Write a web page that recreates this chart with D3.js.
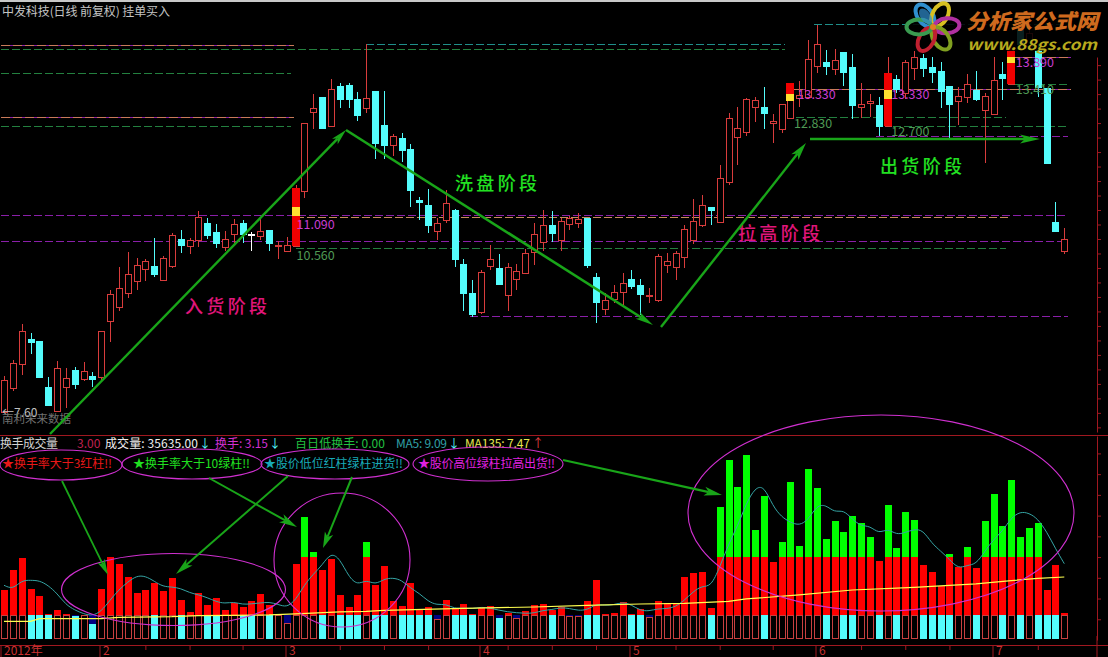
<!DOCTYPE html>
<html><head><meta charset="utf-8">
<script src="https://cdn.jsdelivr.net/npm/d3@7"></script>
<style>html,body{margin:0;padding:0;background:#000;overflow:hidden}svg{display:block}text{font-family:"Noto Sans CJK SC","Noto Sans",sans-serif}</style>
</head><body><svg id="c" width="1108" height="657"></svg>
<script>
const open=[7.86,8.27,8.68,9.12,9.08,8.29,7.87,8.29,8.58,8.43,
8.48,8.46,9.43,9.67,9.91,10.12,10.32,10.37,10.13,10.37,
10.84,10.72,10.82,11.12,10.96,10.70,10.93,11.12,10.93,10.89,
11.00,10.72,10.63,10.72,11.67,13.03,13.29,12.79,13.48,13.49,
13.25,13.10,13.39,12.81,12.46,12.58,12.39,11.51,11.43,10.98,
11.17,11.34,10.41,9.91,9.58,10.37,10.34,9.87,10.15,10.25,
10.62,10.79,11.08,10.82,11.10,11.12,11.20,10.18,9.63,9.81,
9.93,10.15,10.05,9.86,9.79,10.39,10.36,10.53,10.82,11.08,
11.39,11.13,11.82,12.60,12.68,13.12,13.12,12.84,12.74,12.93,
13.27,13.29,13.82,13.89,13.77,14.06,13.80,13.12,13.18,13.15,
12.79,13.60,13.36,13.79,13.96,13.80,13.74,13.48,13.22,13.29,
13.41,13.06,13.00,13.68,13.51,14.44,14.17,14.10,13.44,11.13,10.63];
const close=[8.41,8.70,9.25,9.06,8.46,7.98,8.62,8.44,8.34,8.56,
8.43,9.25,9.89,10.00,10.24,10.39,10.46,10.24,10.51,10.91,
10.74,10.82,11.22,10.91,10.77,10.84,11.10,10.93,10.93,10.98,
10.77,10.74,10.74,11.72,12.84,13.10,12.75,13.43,13.25,13.25,
12.98,13.27,12.49,12.46,12.61,12.37,11.68,11.48,11.08,11.12,
11.46,10.49,9.91,9.55,10.27,10.49,10.06,10.36,10.29,10.60,
10.93,11.08,10.94,11.15,11.20,11.18,10.39,9.75,9.79,9.93,
10.08,10.03,9.89,9.87,10.55,10.46,10.60,11.01,11.15,11.43,
11.34,11.89,12.93,12.75,13.25,13.24,13.01,12.87,13.17,13.53,
13.32,13.94,14.20,13.82,13.93,13.72,13.15,13.17,13.22,12.79,
13.70,13.43,13.89,13.98,13.79,13.72,13.39,13.17,13.30,13.51,
13.25,13.30,13.58,13.61,14.15,14.20,14.39,13.46,12.15,10.98,10.84];
const high=[8.48,8.75,9.37,9.22,9.08,8.46,8.74,8.62,8.63,8.72,
8.55,9.25,9.96,10.36,10.62,10.51,10.49,10.86,10.55,10.94,
11.00,10.86,11.32,11.20,11.10,10.98,11.18,11.17,10.96,11.20,
11.00,10.81,10.88,11.77,12.84,13.34,13.29,13.60,13.53,13.53,
13.37,14.20,13.39,13.39,12.65,12.67,12.48,11.56,11.70,11.20,
11.68,11.36,10.49,10.13,10.31,10.74,10.58,10.43,10.41,10.67,
11.12,11.34,11.32,11.20,11.24,11.29,11.20,10.25,9.91,10.05,
10.25,10.31,10.15,10.00,10.58,10.60,10.63,11.08,11.53,11.60,
11.39,12.12,13.01,13.12,13.27,13.29,13.46,13.00,13.17,13.53,
13.56,14.27,14.53,14.10,14.12,14.06,14.03,13.53,13.34,13.29,
13.98,13.67,13.93,14.08,14.03,13.98,13.89,13.48,13.46,13.68,
13.74,13.36,13.98,13.89,14.15,14.50,14.48,14.20,13.44,11.48,11.03];
const low=[7.86,8.22,8.49,8.86,8.44,7.96,7.87,7.93,8.25,8.39,
8.29,8.37,9.06,9.60,9.82,9.96,10.12,10.18,10.12,10.34,
10.60,10.58,10.70,10.84,10.68,10.63,10.77,10.77,10.63,10.82,
10.63,10.49,10.62,10.70,11.55,12.74,12.75,12.77,13.10,13.10,
12.87,13.01,12.22,12.22,12.27,12.17,11.39,11.17,10.94,10.82,
11.12,10.36,9.60,9.50,9.55,10.31,10.05,9.60,9.96,10.24,
10.39,10.63,10.79,10.63,11.00,11.03,10.34,9.39,9.53,9.74,
9.70,9.98,9.53,9.74,9.75,10.25,10.13,10.34,10.75,11.05,
11.08,11.13,11.77,12.12,12.61,12.86,12.74,12.49,12.67,12.93,
13.12,13.29,13.70,13.67,13.67,13.48,12.91,12.93,12.94,12.61,
12.79,13.36,13.25,13.58,13.63,13.53,13.10,12.58,12.81,13.18,
13.22,12.15,12.98,13.24,13.51,14.10,14.13,13.29,12.15,10.98,10.58];
const turnover=[6.03,8.44,9.89,6.19,5.31,3.1,3.62,3.1,2.95,3.0,
1.89,6.19,10.05,9.17,7.64,5.71,6.03,6.88,5.91,7.48,
4.83,3.38,5.67,4.22,5.07,3.62,4.46,3.98,4.70,5.55,
4.22,3.1,2.0,9.17,14.84,10.6,8.44,9.77,5.43,3.98,
5.43,11.82,6.63,8.93,4.70,4.1,6.88,3.62,3.98,2.5,
4.83,3.86,4.34,3.1,3.86,4.1,2.6,3.3,2.6,3.46,
4.22,4.34,3.62,3.98,2.9,2.9,4.7,7.24,3.14,3.2,
4.58,3.1,3.74,2.8,4.7,4.46,4.34,7.6,8.08,8.2,
3.86,16.04,21.7,18.45,22.3,13.27,17.37,9.41,11.82,19.06,
11.34,20.63,18.34,12.18,14.35,13.03,14.96,14.11,12.42,9.53,
16.28,11.1,15.44,14.47,9.05,8.2,6.51,10.37,8.8,11.22,
8.68,14.35,17.61,13.75,19.3,12.42,13.51,14.11,6.03,9.05,3.3];
const ma5Lead=[6.6,6.1,7.2,7.2];
const ma135Idx=[0,3,4,8,11,13,19,22,30,33,38,41,43,52,60,66,72,77,82,84,90,96,103,110,114,117,120];
const ma135Val=[2.25,2.25,2.57,2.57,2.57,2.73,2.81,2.93,3.02,3.14,3.38,3.46,3.58,3.82,3.98,4.18,4.34,4.42,4.66,4.95,5.43,6.03,6.35,6.76,7.16,7.44,7.6];
const hiIdx=[33,89,100,114];
const hiTop=[11.72,13.53,13.70,14.15];
const hiBottom=[10.72,13.22,12.79,13.51];
const yellowTop=[11.39,13.34,13.41,13.98];
const yellowBottom=[11.24,13.22,13.25,13.87];
const markIdx=[7,9,12,27,34,35,36,41,45,62,63,67,82,83,85,97,98];
const monthIdx=[0,11,32,54,71,92,112];
const monthLabels=["2012年","2","3","4","5","6","7"];
const weekIdx=[16,21,27,38,43,48,57,62,67,76,81,87,97,102,107,117];
const lvPrice=[14.18,12.94,14.11,13.70,12.79,14.20,14.54,11.25,11.22,10.81,10.69,9.51,13.43,13.97,12.94,12.79,12.61,13.51];
const lvFrom=[-0.3,-0.3,-0.3,-0.3,-0.3,41,91.7,-0.3,33,-0.3,33,52.7,89.4,114,89.6,100.6,98.7,114.4];
const lvTo=[32.8,32.8,88.4,32.5,32.5,88.4,120,120.4,113.9,120.4,113.4,120.4,120.8,120.8,113.4,120.4,120.4,120.4];
const lvKind=["p","p","g","g","g","t","t","v","o","v","g","v","p","p","g","g","v","g"];
const tagText=["11.090","10.560","13.330","12.830","13.330","12.700","13.890","13.410"];
const tagPrice=[11.09,10.56,13.33,12.83,13.33,12.70,13.89,13.41];
const tagIdx=[33,33,89.7,89.3,100.3,100.3,114.4,114.4];
const tagKind=["m","g","m","g","m","g","m","g"];

const svg=d3.select("#c");
const x=d3.scaleLinear().domain([0,120]).range([4,1064.3]);
const y=d3.scaleLinear().domain([14.96,7.5]).range([0,432.7]);
const v=d3.scaleLinear().domain([0,24.6]).range([640,436]);
const px=i=>Math.round(x(i));
const col={red:"#d83c3c",cyan:"#54fcfc",fillRed:"#ff0000",green:"#00ff00",
  p:"#c87a5a",pb:"#8a1fa8",g:"#23803f",t:"#1f8f8a",v:"#8a1fa8",o:"#c88a5a",
  m:"#c83cd0",tagg:"#4f9a55",arrow:"#19a519",ring:"#d030d0",frame:"#a01820"};
svg.append("rect").attr("width",1108).attr("height",657).attr("fill","#000");
svg.append("rect").attr("width",1108).attr("height",2).attr("fill","#c8c8c8");
const crisp=g=>g.attr("shape-rendering","crispEdges");

// levels
const lv=crisp(svg.append("g"));
d3.range(lvPrice.length).forEach(k=>{
  const Y=Math.round(y(lvPrice[k]))+.5,a=x(lvFrom[k]),b=x(lvTo[k]),kind=lvKind[k];
  if(kind==="p")lv.append("line").attr("x1",a).attr("x2",b).attr("y1",Y).attr("y2",Y).attr("stroke",col.pb);
  lv.append("line").attr("x1",a).attr("x2",b).attr("y1",Y).attr("y2",Y).attr("stroke",col[kind]).attr("stroke-dasharray",kind==="p"?"9,3":"8,3");
});

// candles
const idx=d3.range(open.length);
const cg=crisp(svg.append("g"));
idx.forEach(i=>{
  const up=close[i]>open[i],flat=close[i]===open[i];
  const c=flat?"#ffffff":up?col.red:col.cyan,X=px(i)+.5;
  cg.append("line").attr("x1",X).attr("x2",X).attr("y1",y(high[i])).attr("y2",y(low[i])).attr("stroke",c);
  const t=Math.round(y(Math.max(open[i],close[i]))),b=Math.round(y(Math.min(open[i],close[i])));
  if(b-t<2){cg.append("line").attr("x1",X-3.5).attr("x2",X+3.5).attr("y1",t+.5).attr("y2",t+.5).attr("stroke",c).attr("stroke-width",2);}
  else cg.append("rect").attr("x",X-3).attr("y",t+.5).attr("width",6).attr("height",b-t).attr("fill",up?"#000":c).attr("stroke",c);
});
// highlighted candles
hiIdx.forEach((i,k)=>{
  const X=x(i);
  cg.append("rect").attr("x",X-4).attr("width",8).attr("y",y(hiTop[k])).attr("height",y(hiBottom[k])-y(hiTop[k])).attr("fill","#f00000");
  cg.append("rect").attr("x",X-4).attr("width",8).attr("y",y(yellowTop[k])).attr("height",y(yellowBottom[k])-y(yellowTop[k])).attr("fill","#ffe030");
});
// magenta marks
svg.append("g").selectAll("path").data(markIdx).join("path")
 .attr("d",d3.symbol().type(d3.symbolX).size(14))
 .attr("transform",i=>`translate(${x(i)},24)`).attr("fill","#e020e0");

// price tags
tagText.forEach((s,k)=>svg.append("text").text(s).attr("x",x(tagIdx[k])+1).attr("y",y(tagPrice[k])+4.5)
  .attr("font-size",12.5).attr("font-family","Liberation Sans").attr("fill",tagKind[k]==="m"?col.m:col.tagg));
svg.append("text").text("←7.60").attr("x",2).attr("y",417).attr("font-size",12).attr("font-family","Liberation Sans").attr("fill","#c0c0c0");
svg.append("text").text("南利未来数据").attr("x",2).attr("y",423).attr("font-size",11.5).attr("fill","#707070");

// logo
const logo=svg.append("g");
logo.append("rect").attr("x",905).attr("y",3).attr("width",200).attr("height",48).attr("fill","#000").attr("opacity",.88);
const petal=[["#2f8fd0",-125],["#d8c020",-60],["#b030a0",-5],["#80a020",55],["#c02030",118],["#3a9a50",180]];
petal.forEach(([c,a])=>{
  logo.append("ellipse").attr("rx",12.5).attr("ry",7.5).attr("cx",14).attr("cy",0)
   .attr("transform",`translate(933,27) rotate(${a})`).attr("fill","none").attr("stroke",c).attr("stroke-width",4);
});
logo.append("ellipse").attr("rx",9).attr("ry",5).attr("cx",13)
 .attr("transform","translate(933,27) rotate(-125)").attr("fill","#2f8fd0").attr("opacity",.7);
logo.append("circle").attr("cx",933).attr("cy",27).attr("r",3).attr("fill","#e08020");
logo.append("text").text("分析家公式网").attr("x",966).attr("y",29).attr("font-size",21).attr("font-weight",900)
 .attr("font-style","italic").attr("textLength",132).attr("lengthAdjust","spacingAndGlyphs").attr("fill","#cf6a1e");
logo.append("text").text("www.88gs.com").attr("x",967).attr("y",50).attr("font-size",15).attr("font-weight",700)
 .attr("font-family","DejaVu Sans").attr("font-style","italic").attr("textLength",130).attr("lengthAdjust","spacingAndGlyphs").attr("fill","#b8aa1e");

// stage labels
[["入货阶段",185,313,"#e0157a"],["洗盘阶段",455,190,"#22e022"],["拉高阶段",738,240,"#e0157a"],["出货阶段",880,173,"#22e022"]]
 .forEach(([s,a,b,c])=>svg.append("text").text(s).attr("x",a).attr("y",b).attr("font-size",18).attr("font-weight",500)
   .attr("textLength",82).attr("lengthAdjust","spacing").attr("fill",c));

// frame
const fr=crisp(svg.append("g"));
[435,645].forEach(Y=>fr.append("line").attr("x1",0).attr("x2",1108).attr("y1",Y+.5).attr("y2",Y+.5).attr("stroke",col.frame));

// lower bars
const bars=crisp(svg.append("g"));
const w=7;
idx.forEach(i=>{
  const X=px(i)-3,t=turnover[i],up=close[i]>open[i];
  const top3=Math.round(v(Math.min(t,3))),base=639;
  if(t<3)bars.append("rect").attr("x",X).attr("width",w).attr("y",v(3)).attr("height",top3-v(3)).attr("fill","#000080");
  if(up)bars.append("rect").attr("x",X+.5).attr("width",w-1).attr("y",top3+.5).attr("height",base-top3-1).attr("fill","#000").attr("stroke","#c84040");
  else bars.append("rect").attr("x",X).attr("width",w).attr("y",top3).attr("height",base-top3).attr("fill",col.cyan);
  if(t>3)bars.append("rect").attr("x",X).attr("width",w).attr("y",v(Math.min(t,10))).attr("height",v(3)-v(Math.min(t,10))).attr("fill",col.fillRed);
  if(t>10)bars.append("rect").attr("x",X).attr("width",w).attr("y",v(t)).attr("height",v(10)-v(t)).attr("fill",col.green);
});
// moving averages
const ma5=idx.map(i=>i<4?ma5Lead[i]:d3.mean(turnover.slice(i-4,i+1)));
svg.append("path").attr("fill","none").attr("stroke","#35a5a5").attr("d",d3.line().x((d,i)=>x(i)).y(d=>v(d)).curve(d3.curveBasis)(ma5));
svg.append("path").attr("fill","none").attr("stroke","#ffff50").attr("stroke-width",1.2).attr("d",d3.line().x((d,i)=>x(ma135Idx[i])).y(d=>v(d))(ma135Val));

// axes
const xa=svg.append("g").attr("transform","translate(0,645)");
xa.call(d3.axisBottom(x).tickValues(monthIdx).tickSize(12).tickFormat((d,i)=>monthLabels[i]));
xa.select(".domain").remove();
xa.selectAll("line").attr("stroke",col.frame);
xa.selectAll("text").attr("fill","#c83030").attr("font-size",12).attr("text-anchor","start").attr("x",3).attr("y",1).attr("dy","0.71em");
xa.selectAll(".tick").attr("transform",d=>`translate(${d===0?1:px(d)-1},0)`);
const xm=svg.append("g").attr("transform","translate(0,645)");
xm.call(d3.axisBottom(x).tickValues(weekIdx).tickSize(5).tickFormat(""));
xm.select(".domain").remove();xm.selectAll("line").attr("stroke",col.frame);
const yA=d3.scaleLinear().domain([13.98,7.51]).range([57,432]);
const rA=svg.append("g").attr("transform","translate(1097,0)").call(d3.axisRight(yA).tickValues(d3.range(7.59,14,.25)).tickSize(4).tickFormat("").tickSizeOuter(0));
const rB=svg.append("g").attr("transform","translate(1097,0)").call(d3.axisRight(v).tickValues(d3.range(2.5,24,2.5)).tickSize(4).tickFormat("").tickSizeOuter(0));
[rA,rB].forEach(g=>{g.selectAll("path,line").attr("stroke",col.frame)});
svg.append("line").attr("x1",1097).attr("x2",1097).attr("y1",636).attr("y2",657).attr("stroke",col.frame);

// texts
const T=(s,a,b,c,o={})=>{const t=svg.append("text").text(s).attr("x",a).attr("y",b).attr("fill",c).attr("font-size",o.fs||12);if(o.w)t.attr("textLength",o.w).attr("lengthAdjust","spacing");return t};
T("中发科技(日线 前复权) 挂单买入",2,16,"#c4c4c4",{w:168});
T("换手成交量",0,448,"#d0d0d0",{w:58});
T("3.00",77,448,"#c02050");
T("成交量: 35635.00",105,448,"#f0f0f0",{w:93});
T("↓",199,448,col.cyan);
T("换手: 3.15",215,448,"#d030d0",{w:53});
T("↓",269,448,col.cyan);
T("百日低换手: 0.00",295,448,"#22c040",{w:90});
T("MA5: 9.09",396,448,"#30a0a8",{w:51});
T("↓",448,448,col.cyan);
T("MA135: 7.47",465,448,"#e8e850",{w:65});
T("↑",532,448,"#e04040");
[[2,"★换手率大于3红柱!!","#e81818",110],[133,"★换手率大于10绿柱!!","#20e020",117],[264,"★股价低位红柱绿柱进货!!","#18aab8",139],[418,"★股价高位绿柱拉高出货!!","#e020e0",137]]
 .forEach(([a,s,c,wd])=>T(s,a,468,c,{w:wd}));

// ellipses
[[61,465,61,15],[192,464,70,15],[335,464,74,15],[488,464,75,17],[173.5,589.5,112,36],[342,560,68,67],[881,513,193,98]]
 .forEach(([cx,cy,rx,ry])=>svg.append("ellipse").attr("cx",cx).attr("cy",cy).attr("rx",rx).attr("ry",ry).attr("fill","none").attr("stroke",col.ring).attr("stroke-width",1.1));

// arrows
function arrow(x1,y1,x2,y2,sw,len,hw){
  const a=Math.atan2(y2-y1,x2-x1),c=Math.cos(a),s=Math.sin(a);
  const bx=x2-c*len,by=y2-s*len,nx=x2-c*len*.75,ny=y2-s*len*.75;
  svg.append("line").attr("x1",x1).attr("y1",y1).attr("x2",nx).attr("y2",ny).attr("stroke",col.arrow).attr("stroke-width",sw);
  svg.append("polygon").attr("fill",col.arrow).attr("points",[[x2,y2],[bx-s*hw,by+c*hw],[nx,ny],[bx+s*hw,by-c*hw]].map(p=>p.join(",")).join(" "));
}
arrow(50,434,346,130,2.4,16,4);
arrow(346,130,653,325,2.6,18,4);
arrow(661,327,806,143,2.4,18,4.5);
arrow(810,139,1040,139,2.4,20,4.5);
arrow(62,481,108,575,1.8,16,4);
arrow(209,478,297,527,2,18,4.5);
arrow(288,476,176,574,2,18,4.5);
arrow(352,477,323,548,2,16,4.5);
arrow(563,460,722,495,2.2,18,4.5);
</script></body></html>
